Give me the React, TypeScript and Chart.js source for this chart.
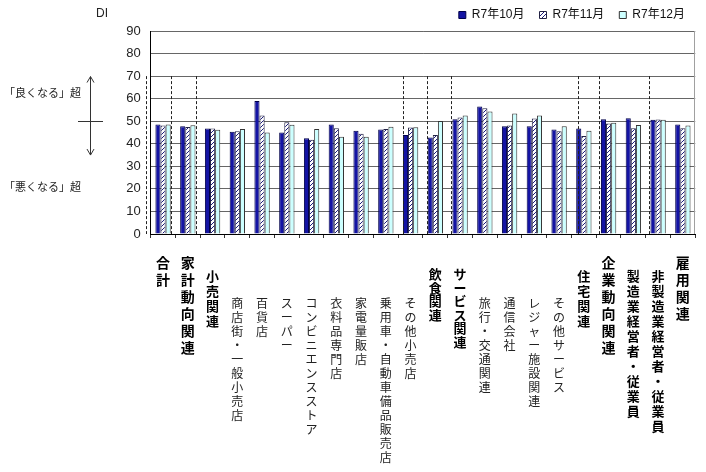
import { useEffect, useRef } from 'react';
import { Chart, registerables } from 'chart.js';

Chart.register(...registerables);

const categories = [
  '合計', '家計動向関連', '小売関連', '商店街・一般小売店', '百貨店', 'スーパー',
  'コンビニエンスストア', '衣料品専門店', '家電量販店', '乗用車・自動車備品販売店',
  'その他小売店', '飲食関連', 'サービス関連', '旅行・交通関連', '通信会社',
  'レジャー施設関連', 'その他サービス', '住宅関連', '企業動向関連',
  '製造業経営者・従業員', '非製造業経営者・従業員', '雇用関連',
];

const seriesLabels = ['R7年10月', 'R7年11月', 'R7年12月'];

const octValues = [48.5, 47.8, 46.8, 45.3, 59.0, 45.0, 42.5, 48.5, 45.8, 46.3, 43.9, 42.8, 50.9, 56.5, 47.8, 47.8, 46.3, 46.8, 50.9, 51.3, 50.6, 48.6];
const novValues = [48.1, 47.4, 46.8, 45.6, 52.5, 49.5, 41.8, 46.9, 44.5, 46.5, 47.2, 43.9, 51.6, 55.8, 48.1, 51.2, 45.6, 43.5, 49.0, 46.9, 50.8, 46.9];
const decValues = [48.5, 48.2, 46.2, 46.6, 45.0, 48.4, 46.6, 43.1, 43.1, 47.5, 47.3, 50.1, 52.5, 54.3, 53.4, 52.5, 47.8, 45.8, 49.3, 48.3, 50.6, 48.1];

const yMin = 0;
const yMax = 90;
const yStep = 10;

const upperNote = '「良くなる」超';
const lowerNote = '「悪くなる」超';
const yUnit = 'DI';

// group divider positions, in category units
const dividers = [-0.69, 0.31, 1.31, 9.71, 10.67, 11.63, 16.75, 17.63, 19.63];

// label style kind per category (style, not data)
const labelKinds = ['L', 'L', 'M', 'N', 'N', 'N', 'N', 'N', 'N', 'N', 'N', 'C', 'C', 'N', 'N', 'N', 'N', 'M', 'L', 'D', 'D', 'L'];

const JP = '"Noto Sans CJK JP", "Noto Sans", sans-serif';
const LAT = '"Liberation Sans", Arial, "Noto Sans CJK JP", sans-serif';

const kindStyle: Record<string, { size: number; weight: string; lh: number; blank: number; color: string }> = {
  L: { size: 14, weight: 'bold', lh: 17, blank: 0, color: '#000' },
  M: { size: 13, weight: 'bold', lh: 15, blank: 1, color: '#000' },
  C: { size: 13, weight: 'bold', lh: 13.5, blank: 1, color: '#000' },
  D: { size: 13, weight: 'bold', lh: 15, blank: 1, color: '#000' },
  N: { size: 12, weight: 'normal', lh: 14, blank: 3, color: '#222' },
};

function makeHatch(): CanvasPattern | string {
  const c = document.createElement('canvas');
  c.width = 4;
  c.height = 4;
  const g = c.getContext('2d');
  if (!g) return '#ffffff';
  g.fillStyle = '#ffffff';
  g.fillRect(0, 0, 4, 4);
  g.strokeStyle = '#1a1a7a';
  g.lineWidth = 1;
  g.beginPath();
  g.moveTo(0, 4); g.lineTo(4, 0);
  g.moveTo(-1, 1); g.lineTo(1, -1);
  g.moveTo(3, 5); g.lineTo(5, 3);
  g.stroke();
  return g.createPattern(c, 'repeat') || '#ffffff';
}

const decorPlugin = {
  id: 'decor',
  afterDatasetsDraw(chart: any) {
    const { ctx, chartArea, scales } = chart;
    const x = scales.x;
    const y = scales.y;
    ctx.save();
    // right border of plot
    ctx.strokeStyle = '#a0a0a0';
    ctx.lineWidth = 1;
    ctx.beginPath();
    ctx.moveTo(Math.round(chartArea.right) - 0.5, chartArea.top);
    ctx.lineTo(Math.round(chartArea.right) - 0.5, chartArea.bottom);
    ctx.stroke();
    // dashed dividers
    ctx.strokeStyle = '#222';
    ctx.setLineDash([3, 2]);
    const yTop = y.getPixelForValue(70);
    const yBot = y.getPixelForValue(0);
    for (const d of dividers) {
      const px = Math.round(x.getPixelForValue(d)) + 0.5;
      ctx.beginPath();
      ctx.moveTo(px, yTop);
      ctx.lineTo(px, yBot);
      ctx.stroke();
    }
    ctx.restore();
  },
  afterDraw(chart: any) {
    const { ctx, scales } = chart;
    const y = scales.y;
    ctx.save();
    ctx.fillStyle = '#222';
    ctx.font = `12px ${LAT}`;
    ctx.textBaseline = 'middle';
    ctx.textAlign = 'left';
    ctx.fillText(yUnit, 96, 14);

    ctx.font = `11px ${JP}`;
    ctx.fillText(upperNote, 4, y.getPixelForValue(62.5));
    ctx.fillText(lowerNote, 4, y.getPixelForValue(20.8));

    const ax = 90.5;
    const y50 = Math.round(y.getPixelForValue(50)) + 0.5;
    const yUp = y.getPixelForValue(69.8);
    const yDn = y.getPixelForValue(35);
    ctx.strokeStyle = '#333';
    ctx.lineWidth = 1;
    ctx.beginPath();
    ctx.moveTo(78, y50); ctx.lineTo(103, y50);
    ctx.moveTo(ax, y50); ctx.lineTo(ax, yUp);
    ctx.moveTo(ax - 3.5, yUp + 6); ctx.lineTo(ax, yUp); ctx.lineTo(ax + 3.5, yUp + 6);
    ctx.moveTo(ax, y50); ctx.lineTo(ax, yDn);
    ctx.moveTo(ax - 3.5, yDn - 6); ctx.lineTo(ax, yDn); ctx.lineTo(ax + 3.5, yDn - 6);
    ctx.stroke();
    ctx.restore();
  },
};

export default function App() {
  const ref = useRef<HTMLCanvasElement | null>(null);

  useEffect(() => {
    if (!ref.current) return;
    const hatch = makeHatch();
    const chart = new Chart(ref.current, {
      type: 'bar',
      data: {
        labels: categories,
        datasets: [
          {
            label: seriesLabels[0],
            data: octValues,
            backgroundColor: '#1414a4',
            borderColor: '#00004a',
            borderWidth: 1,
            categoryPercentage: 0.62,
            barPercentage: 1,
          },
          {
            label: seriesLabels[1],
            data: novValues,
            backgroundColor: hatch as any,
            borderColor: '#222244',
            borderWidth: 1,
            categoryPercentage: 0.62,
            barPercentage: 1,
          },
          {
            label: seriesLabels[2],
            data: decValues,
            backgroundColor: '#ccffff',
            borderColor: '#333333',
            borderWidth: 1,
            categoryPercentage: 0.62,
            barPercentage: 1,
          },
        ],
      },
      options: {
        animation: false,
        responsive: true,
        maintainAspectRatio: false,
        layout: { padding: { top: -6, right: 6, left: 0, bottom: 0 } },
        plugins: {
          tooltip: { enabled: false },
          legend: {
            position: 'top',
            align: 'end',
            labels: {
              boxWidth: 7,
              boxHeight: 7,
              padding: 15,
              color: '#111',
              font: { family: LAT, size: 12 },
            },
          },
        },
        scales: {
          x: {
            type: 'category',
            offset: true,
            border: { display: true, color: '#000', width: 1 },
            grid: { display: true, drawOnChartArea: false, drawTicks: true, tickLength: 4, offset: true, color: '#333' },
            ticks: {
              autoSkip: false,
              maxRotation: 0,
              minRotation: 0,
              padding: 16,
              color: (c: any) => kindStyle[labelKinds[c.index]]?.color || '#000',
              font: (c: any) => {
                const s = kindStyle[labelKinds[c.index]] || kindStyle.N;
                return { family: JP, size: s.size, weight: s.weight as any, lineHeight: `${s.lh}px` };
              },
              callback: (_v: any, i: number) => {
                const s = kindStyle[labelKinds[i]] || kindStyle.N;
                return [...Array(s.blank).fill(''), ...Array.from(categories[i])];
              },
            },
            afterFit: (scale: any) => { scale.height = 238; },
          },
          y: {
            min: yMin,
            max: yMax,
            border: { display: true, color: '#000', width: 1 },
            grid: { color: '#666666', lineWidth: 1, drawTicks: false },
            ticks: {
              stepSize: yStep,
              padding: 10,
              color: '#222',
              font: { family: LAT, size: 13 },
            },
            afterFit: (scale: any) => { scale.width = 150.7; },
          },
        },
      },
      plugins: [decorPlugin],
    });
    return () => chart.destroy();
  }, []);

  return (
    <div style={{ position: 'absolute', left: 0, top: 0, width: 706, height: 472, background: '#fff' }}>
      <canvas ref={ref} />
    </div>
  );
}
